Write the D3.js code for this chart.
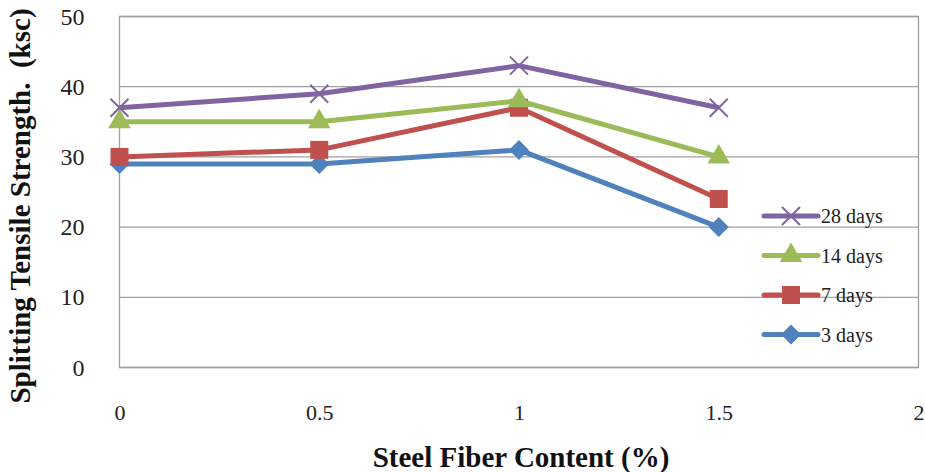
<!DOCTYPE html>
<html>
<head>
<meta charset="utf-8">
<script src="https://cdn.jsdelivr.net/npm/d3@7"></script>
<style>
  html, body { margin: 0; padding: 0; background: #fff; }
  svg { display: block; }
</style>
</head>
<body>
<svg id="chart" width="925" height="472"></svg>
<script>
// Fibre contents (%) along the x axis
const fiberContent = [0, 0.5, 1, 1.5];
// Splitting tensile strength (ksc) per curing age
const days28 = [37, 39, 43, 37];
const days14 = [35, 35, 38, 30];
const days7  = [30, 31, 37, 24];
const days3  = [29, 29, 31, 20];
const seriesNames = ["28 days", "14 days", "7 days", "3 days"];
const xTicks = [0, 0.5, 1, 1.5, 2];
const yTicks = [0, 10, 20, 30, 40, 50];

const series = [
  { name: seriesNames[0], values: days28, color: "#8064A2", marker: "x" },
  { name: seriesNames[1], values: days14, color: "#9BBB59", marker: "triangle" },
  { name: seriesNames[2], values: days7,  color: "#C0504D", marker: "square" },
  { name: seriesNames[3], values: days3,  color: "#4F81BD", marker: "diamond" }
];

const svg = d3.select("#chart");
const plotLeft = 119.5, plotRight = 918.5, plotTop = 16.5, plotBottom = 367.5;

const x = d3.scaleLinear().domain([0, 2]).range([plotLeft, plotRight]);
const y = d3.scaleLinear().domain([0, 50]).range([plotBottom, plotTop]);

const serif = "'Liberation Serif', 'Times New Roman', serif";

// horizontal gridlines
svg.append("g")
  .selectAll("line")
  .data(yTicks)
  .join("line")
  .attr("x1", plotLeft).attr("x2", plotRight)
  .attr("y1", d => y(d)).attr("y2", d => y(d))
  .attr("stroke", "#a0a0a0").attr("stroke-width", 1.3);

// plot-area frame
svg.append("rect")
  .attr("x", plotLeft).attr("y", plotTop)
  .attr("width", plotRight - plotLeft).attr("height", plotBottom - plotTop)
  .attr("fill", "none").attr("stroke", "#a0a0a0").attr("stroke-width", 1.3);

// y axis labels
const yAxis = d3.axisLeft(y).tickValues(yTicks).tickSize(0).tickPadding(35);
const gy = svg.append("g").attr("transform", `translate(${plotLeft},0)`).call(yAxis);
gy.select(".domain").remove();
gy.attr("font-family", serif);
gy.selectAll("text")
  .attr("font-family", serif).attr("font-size", 24).attr("fill", "#222");

// x axis labels, set well below the frame
const xAxis = d3.axisBottom(x).tickValues(xTicks).tickSize(0).tickPadding(0)
  .tickFormat(d3.format("~g"));
const gx = svg.append("g").attr("transform", `translate(0,${plotBottom + 37})`).call(xAxis);
gx.select(".domain").remove();
gx.attr("font-family", serif);
gx.selectAll("text")
  .attr("font-family", serif).attr("font-size", 22).attr("fill", "#222");

// axis titles
svg.append("text")
  .attr("x", 521).attr("y", 467)
  .attr("text-anchor", "middle")
  .attr("font-family", serif).attr("font-weight", "bold").attr("font-size", 29)
  .attr("fill", "#111")
  .text("Steel Fiber Content (%)");

svg.append("text")
  .attr("transform", "translate(30,206) rotate(-90)")
  .attr("text-anchor", "middle")
  .style("white-space", "pre")
  .attr("font-family", serif).attr("font-weight", "bold").attr("font-size", 29)
  .attr("fill", "#111")
  .text("Splitting Tensile Strength.  (ksc)");

// markers
function drawMarker(g, type, color, cx, cy) {
  if (type === "x") {
    const s = 9;
    g.append("path")
      .attr("d", `M${cx - s},${cy - s}L${cx + s},${cy + s}M${cx - s},${cy + s}L${cx + s},${cy - s}`)
      .attr("stroke", color).attr("stroke-width", 2).attr("fill", "none");
  } else if (type === "triangle") {
    g.append("path")
      .attr("d", d3.symbol(d3.symbolTriangle, 220)())
      .attr("transform", `translate(${cx},${cy})`)
      .attr("fill", color);
  } else if (type === "square") {
    g.append("rect")
      .attr("x", cx - 9).attr("y", cy - 9).attr("width", 18).attr("height", 18)
      .attr("fill", color);
  } else if (type === "diamond") {
    const s = 10;
    g.append("path")
      .attr("d", `M${cx},${cy - s}L${cx + s},${cy}L${cx},${cy + s}L${cx - s},${cy}Z`)
      .attr("fill", color);
  }
}

const line = d3.line().x((d, i) => x(fiberContent[i])).y(d => y(d));

// draw bottom series first so the 28-day line sits on top
[...series].reverse().forEach(s => {
  const g = svg.append("g");
  g.append("path")
    .datum(s.values)
    .attr("d", line)
    .attr("fill", "none")
    .attr("stroke", s.color)
    .attr("stroke-width", 5)
    .attr("stroke-linejoin", "round");
  s.values.forEach((v, i) => drawMarker(g, s.marker, s.color, x(fiberContent[i]), y(v)));
});

// legend
const legend = svg.append("g");
series.forEach((s, i) => {
  const ly = 216 + i * 39.5;
  const g = legend.append("g");
  g.append("line")
    .attr("x1", 764).attr("x2", 818).attr("y1", ly).attr("y2", ly)
    .attr("stroke", s.color).attr("stroke-width", 5).attr("stroke-linecap", "round");
  drawMarker(g, s.marker, s.color, 791, ly);
  g.append("text")
    .attr("x", 821).attr("y", ly + 7)
    .attr("font-family", serif).attr("font-size", 20).attr("fill", "#222")
    .text(s.name);
});
</script>
</body>
</html>
